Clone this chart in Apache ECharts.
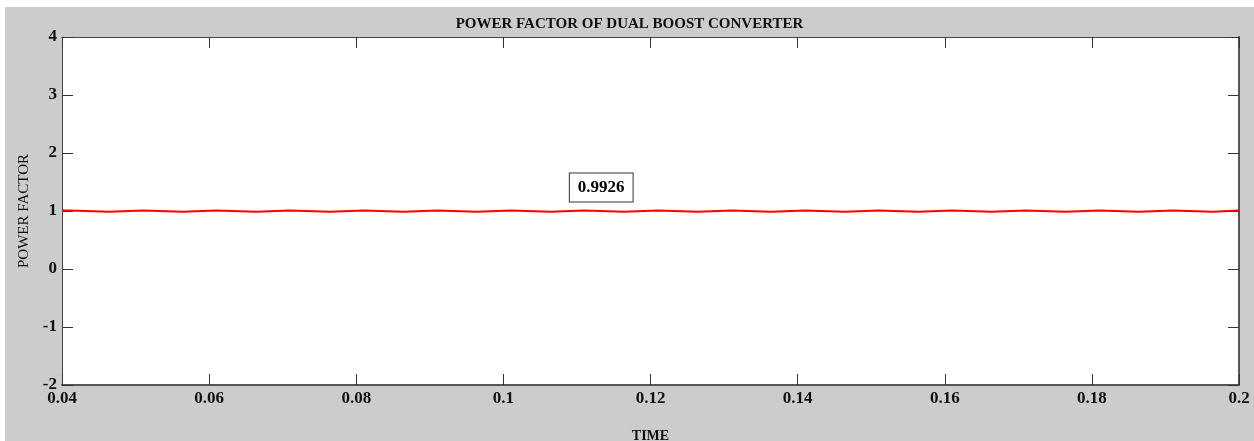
<!DOCTYPE html>
<html>
<head>
<meta charset="utf-8">
<script src="https://cdn.jsdelivr.net/npm/echarts@6/dist/echarts.min.js"></script>
<style>
  html, body { margin: 0; padding: 0; background: #ffffff; }
  #chart { position: absolute; left: 5px; top: 7px; width: 1249px; height: 434px; }
</style>
</head>
<body>
<div id="chart"></div>
<script>
// transition instants of the power factor ripple (s)
var times = [0.04, 0.041, 0.0464, 0.051, 0.0564, 0.061, 0.0664, 0.071, 0.0764, 0.081,
    0.0864, 0.091, 0.0964, 0.101, 0.1064, 0.111, 0.1164, 0.121, 0.1264, 0.131,
    0.1364, 0.141, 0.1464, 0.151, 0.1564, 0.161, 0.1664, 0.171, 0.1764, 0.181,
    0.1864, 0.191, 0.1964, 0.2];
var pf = [1.008, 0.988, 1.008, 0.988, 1.008, 0.988, 1.008, 0.988, 1.008, 0.988,
    1.008, 0.988, 1.008, 0.988, 1.008, 0.988, 1.008, 0.988, 1.008, 0.988,
    1.008, 0.988, 1.008, 0.988, 1.008, 0.988, 1.008, 0.988, 1.008, 0.988,
    1.008, 0.988, 1.008, 1.008];
var xTicks = [0.04, 0.06, 0.08, 0.1, 0.12, 0.14, 0.16, 0.18, 0.2];
var yTicks = [-2, -1, 0, 1, 2, 3, 4];
var note = { time: 0.1133, pf: 1.405, text: '0.9926' };

var font = '"Liberation Serif", "Times New Roman", serif';
var tickStyle = { show: true, inside: true, length: 11, lineStyle: { color: '#333', width: 1 } };

// hold each level until the next instant, so the ripple is drawn as steps
var steps = [];
times.forEach(function (t, i) {
    if (i > 0) steps.push([t, pf[i - 1]]);
    steps.push([t, pf[i]]);
});

var chart = echarts.init(document.getElementById('chart'));
chart.setOption({
    animation: false,
    backgroundColor: '#cccccc',
    title: {
        text: 'POWER FACTOR OF DUAL BOOST CONVERTER',
        left: 'center', top: 5,
        textStyle: { fontFamily: font, fontWeight: 'bold', fontSize: 15, color: '#111' }
    },
    grid: { left: 57, top: 30, right: 15, bottom: 56, outerBoundsMode: 'none', containLabel: false,
        show: true, backgroundColor: '#ffffff', borderWidth: 0 },
    xAxis: [{
        type: 'value', min: xTicks[0], max: xTicks[xTicks.length - 1], interval: 0.02,
        name: 'TIME', nameLocation: 'middle', nameGap: 44,
        nameTextStyle: { fontFamily: font, fontWeight: 'bold', fontSize: 14, color: '#111' },
        axisLine: { show: true, onZero: false, lineStyle: { color: '#555', width: 2 } },
        axisTick: tickStyle,
        splitLine: { show: false },
        axisLabel: { fontFamily: font, fontWeight: 'bold', fontSize: 17, color: '#111', margin: 5,
            formatter: function (v) { return String(+v.toFixed(2)); } }
    }, {
        type: 'value', position: 'top', min: xTicks[0], max: xTicks[xTicks.length - 1], interval: 0.02,
        axisLine: { show: true, onZero: false, lineStyle: { color: '#444', width: 1 } },
        axisTick: tickStyle, axisLabel: { show: false }, splitLine: { show: false }
    }],
    yAxis: [{
        type: 'value', min: yTicks[0], max: yTicks[yTicks.length - 1], interval: 1,
        name: 'POWER FACTOR', nameLocation: 'middle', nameGap: 27,
        nameTextStyle: { fontFamily: font, fontSize: 15, color: '#111' },
        axisLine: { show: true, onZero: false, lineStyle: { color: '#444', width: 1 } },
        axisTick: tickStyle,
        splitLine: { show: false },
        axisLabel: { fontFamily: font, fontWeight: 'bold', fontSize: 17, color: '#111', margin: 5 }
    }, {
        type: 'value', position: 'right', min: yTicks[0], max: yTicks[yTicks.length - 1], interval: 1,
        axisLine: { show: true, onZero: false, lineStyle: { color: '#555', width: 2 } },
        axisTick: tickStyle, axisLabel: { show: false }, splitLine: { show: false }
    }],
    series: [{
        type: 'line',
        showSymbol: false,
        data: steps,
        lineStyle: { color: '#ff0000', width: 2 },
        markPoint: {
            symbol: 'rect', symbolSize: 0,
            data: [{ coord: [note.time, note.pf], value: note.text }],
            label: {
                show: true, position: 'inside', formatter: '{c}',
                fontFamily: font, fontWeight: 'bold', fontSize: 17, color: '#000',
                backgroundColor: '#ffffff', borderColor: '#333', borderWidth: 1,
                padding: [6, 8, 5, 8]
            }
        }
    }]
});
</script>
</body>
</html>
